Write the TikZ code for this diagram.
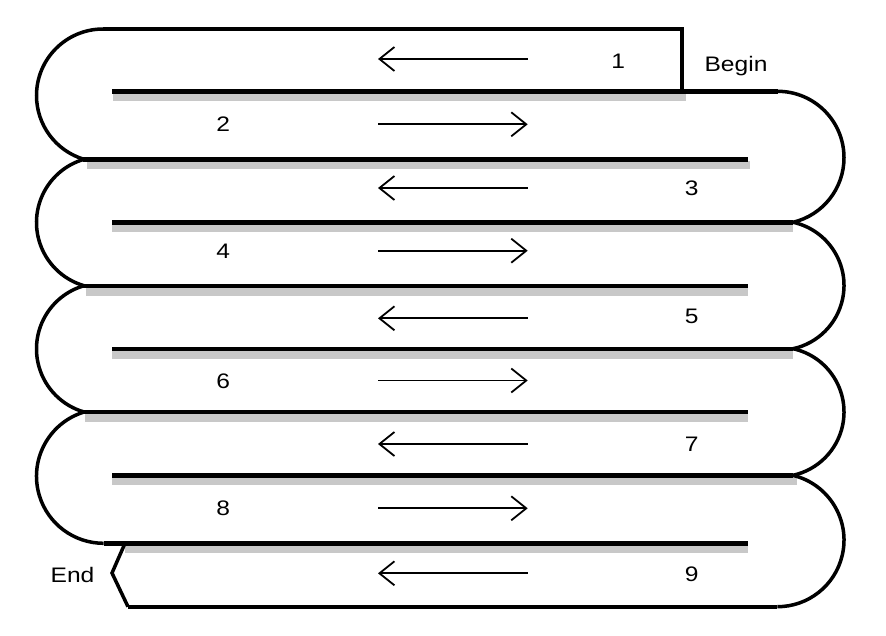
\documentclass[tikz,border=0pt]{standalone}
\usepackage{fontspec}
\setmainfont{Liberation Sans}
\usetikzlibrary{arrows.meta}

\begin{document}
\begin{tikzpicture}[x=1pt,y=1pt,yscale=-1,xscale=1,
  foldline/.style={line width=4.4pt},
  turnline/.style={line width=3.5pt},
  foldshadow/.style={color={rgb, 255:red, 200; green, 200; blue, 200 }, line width=8pt},
  flowarrow/.style={line width=1.8pt, -{Straight Barb[length=15pt,width=24pt,line width=1.8pt]}},
  lbl/.style={anchor=base, inner sep=0pt, font=\fontsize{21}{25}\selectfont, xscale=1.17}]
\useasboundingbox (0,0) rectangle (886,635); %set diagram left start at 0, and has height of 635

%Shadows under the folds
\draw [foldshadow] (113,97.3) -- (686,97.3) ;
\draw [foldshadow] (87,165.3) -- (750,165.3) ;
\draw [foldshadow] (112,228.3) -- (793,228.3) ;
\draw [foldshadow] (86,291.7) -- (748,291.7) ;
\draw [foldshadow] (112,354.7) -- (793,354.7) ;
\draw [foldshadow] (85,418) -- (748,418) ;
\draw [foldshadow] (112,481.3) -- (797,481.3) ;
\draw [foldshadow] (125,549.3) -- (748,549.3) ;

%Straight Lines: begin flap
\draw [foldline, line join=miter] (103,29) -- (682,29) -- (682,91.3) ;
%Straight Lines
\draw [foldline] (112,91.3) -- (777.6,91.3) ;
\draw [foldline] (83,159.3) -- (748,159.3) ;
\draw [foldline] (112,222.3) -- (793,222.3) ;
\draw [foldline] (83,285.7) -- (748,285.7) ;
\draw [foldline] (112,348.7) -- (793,348.7) ;
\draw [foldline] (83,412) -- (748,412) ;
\draw [foldline] (112,475.3) -- (793,475.3) ;
\draw [foldline] (103.6,543.3) -- (748,543.3) ;
\draw [foldline] (128,606.7) -- (777.4,606.7) ;
%Straight Lines: end flap
\draw [turnline, line join=miter] (125,543.3) -- (112,573) -- (128,606.7) ;

%Shape: Arc (left turns)
\draw [turnline] (103.05,95.55) ++(270:66.55) arc [start angle=270, end angle=106.6, radius=66.55] ;
\draw [turnline] (102.3,222.5) ++(253.85:65.8) arc [start angle=253.85, end angle=106.15, radius=65.8] ;
\draw [turnline] (102.2,348.85) ++(253.9:65.7) arc [start angle=253.9, end angle=106.1, radius=65.7] ;
\draw [turnline] (103.6,476.2) ++(253:67.1) arc [start angle=253, end angle=90, radius=67.1] ;
%Shape: Arc (right turns)
\draw [turnline] (777.6,157.7) ++(270:66.4) arc [start angle=270, end angle=436.6, radius=66.4] ;
\draw [turnline] (779.3,285.5) ++(-77.8:64.7) arc [start angle=-77.8, end angle=77.8, radius=64.7] ;
\draw [turnline] (779.2,412) ++(-77.7:64.8) arc [start angle=-77.7, end angle=77.7, radius=64.8] ;
\draw [turnline] (777.4,540.1) ++(-76.5:66.6) arc [start angle=-76.5, end angle=90, radius=66.6] ;

%Straight Lines: direction arrows
\draw [flowarrow] (527.7,59) -- (378,59) ;
\draw [flowarrow] (378,124.3) -- (527.7,124.3) ;
\draw [flowarrow] (527.7,188) -- (378,188) ;
\draw [flowarrow] (378,250.7) -- (527.7,250.7) ;
\draw [flowarrow] (527.7,318.3) -- (378,318.3) ;
\draw [flowarrow] (378,380.5) -- (527.7,380.5) ;
\draw [flowarrow] (527.7,444) -- (378,444) ;
\draw [flowarrow] (378,508.3) -- (527.7,508.3) ;
\draw [flowarrow] (527.7,573.3) -- (378,573.3) ;

% Text Node
\draw (618.3,68.3) node [lbl] (num1) {1};
% Text Node
\draw (736,71) node [lbl] (begin) {Begin};
% Text Node
\draw (223.3,131.7) node [lbl] (num2) {2};
% Text Node
\draw (691.7,195) node [lbl] (num3) {3};
% Text Node
\draw (223.3,258) node [lbl] (num4) {4};
% Text Node
\draw (691.7,323) node [lbl] (num5) {5};
% Text Node
\draw (223.3,388.5) node [lbl] (num6) {6};
% Text Node
\draw (691.7,451.7) node [lbl] (num7) {7};
% Text Node
\draw (223.3,515) node [lbl] (num8) {8};
% Text Node
\draw (691.7,581.7) node [lbl] (num9) {9};
% Text Node
\draw (72.5,582.7) node [lbl] (finish) {End};

\end{tikzpicture}
\end{document}
